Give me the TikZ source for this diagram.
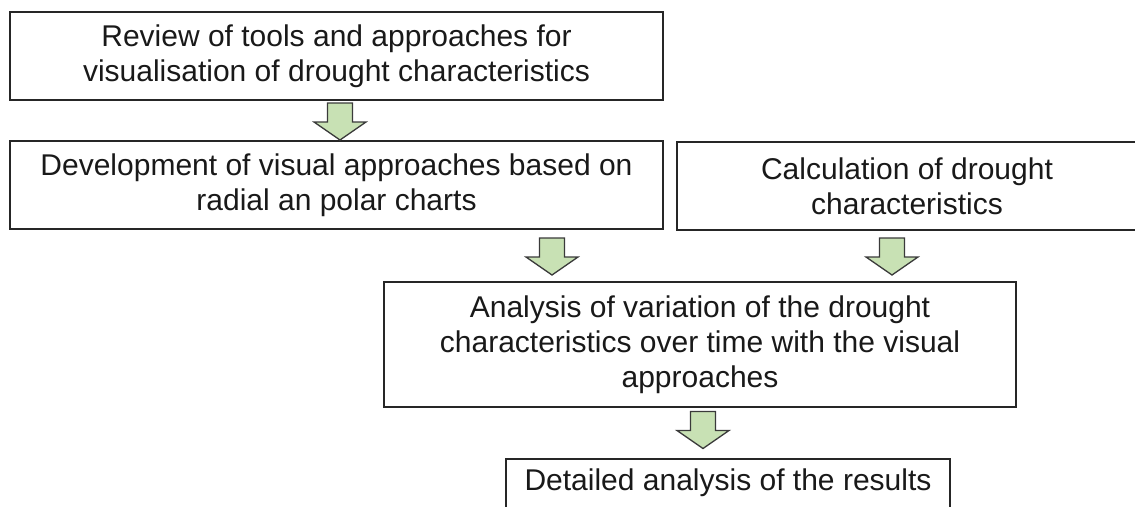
\documentclass[tikz,border=0pt]{standalone}
\usepackage{fontspec}
\setmainfont{Liberation Sans}
\definecolor{boxline}{HTML}{262626}
\definecolor{arrowfill}{HTML}{C8E1B4}
\definecolor{arrowline}{HTML}{3A3A3A}
\tikzset{
  stepbox/.style={draw=boxline, line width=2pt, rectangle, inner sep=0pt, align=center,
    font=\fontsize{30}{35}\selectfont, text=black!90},
  steptext/.style={inner sep=0pt, font=\fontsize{30}{35}\selectfont, text=black!90},
  blockarrow/.pic={
    \draw[draw=arrowline, fill=arrowfill, line width=1.3pt, line join=miter]
      (-12.5,0) -- (12.5,0) -- (12.5,19) -- (26,19) -- (0,37) -- (-26,19) -- (-12.5,19) -- cycle;
  }
}
\begin{document}
\begin{tikzpicture}[x=1pt,y=-1pt]
\useasboundingbox (0,0) rectangle (1135,506);
\node[stepbox, minimum width=653pt, minimum height=88pt] (b1) at (336.5,56)
  {Review of tools and approaches for\\visualisation of drought characteristics};
\node[stepbox, minimum width=653pt, minimum height=88pt] (b2) at (336.5,185)
  {Development of visual approaches based on\\radial an polar charts};
\node[stepbox, minimum width=460pt, minimum height=88pt] (b3) at (907,186)
  {Calculation of drought\\characteristics};
\node[stepbox, minimum width=632pt, minimum height=125pt] (b4) at (700,344.5)
  {Analysis of variation of the drought\\characteristics over time with the visual\\approaches};
\node[stepbox, minimum width=444pt, minimum height=72pt, anchor=north] (b5) at (728,458) {};
\node[steptext, anchor=base] (t5) at (728,490) {Detailed analysis of the results};
\pic (a1) at (340,103) {blockarrow};
\pic (a2) at (552,238) {blockarrow};
\pic (a3) at (892,238) {blockarrow};
\pic (a4) at (703,411.5) {blockarrow};
\end{tikzpicture}
\end{document}
